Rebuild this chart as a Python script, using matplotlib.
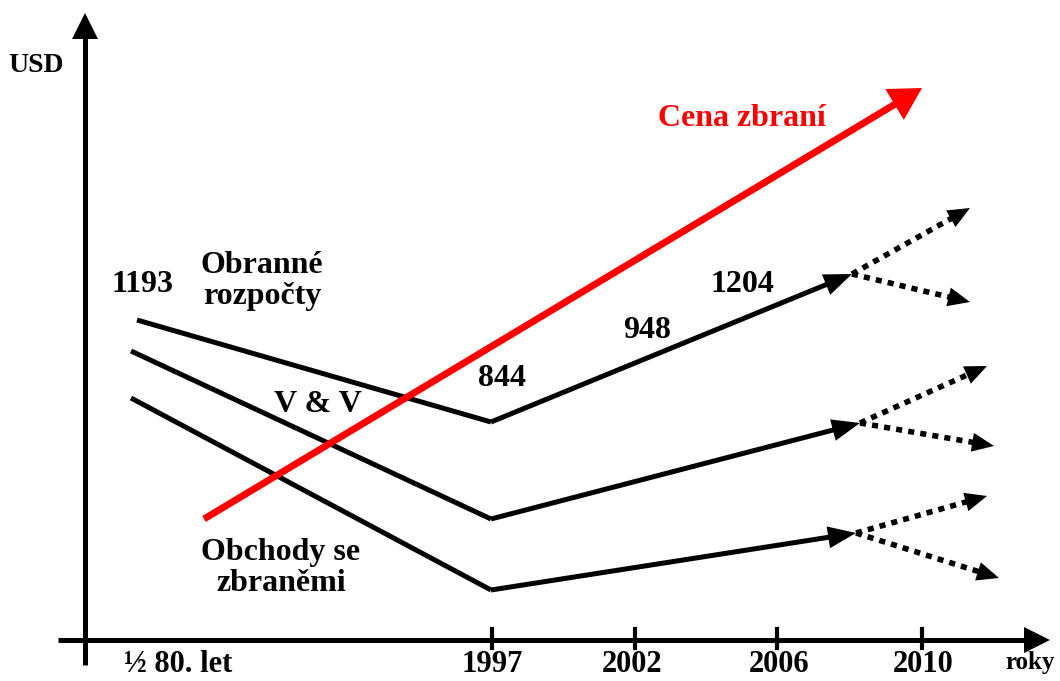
import numpy as np
import matplotlib.pyplot as plt
from matplotlib.patches import Polygon

# Schematic chart: positions along the time axis (no real scale)
years = ["½ 80. let", "1997", "2002", "2006", "2010"]
year_x = [178, 492, 632, 779, 923]
tick_x = [492, 635, 777, 922]

# series: start, 1997 low point, end of solid arrow, two dotted forecast tips
obrana = [(137, 320), (491, 422), (852, 274)]
obrana_fc = [(970, 208), (970, 302)]
vav = [(131, 351), (491, 519), (860, 423)]
vav_fc = [(987, 366), (994, 446)]
obchod = [(131, 398), (491, 590), (856, 533)]
obchod_fc = [(987, 496), (999, 578)]
cena = [(204, 519), (922, 88)]

values = ["1193", "844", "948", "1204"]
value_pos = [(143, 284), (502, 379), (647, 331), (742, 284)]

plt.rcParams['font.family'] = ['Liberation Serif', 'DejaVu Serif']

fig = plt.figure(figsize=(10.6, 6.81), dpi=100)
ax = fig.add_axes([0, 0, 1, 1])
ax.set_xlim(0, 1060)
ax.set_ylim(681, 0)
ax.axis('off')


def head(p0, p1, length, width, color='black'):
    # filled triangular arrow head ending at p1, pointing from p0
    p0, p1 = np.array(p0, float), np.array(p1, float)
    u = (p1 - p0) / np.hypot(*(p1 - p0))
    n = np.array([-u[1], u[0]])
    base = p1 - u * length
    tri = [p1, base + n * width / 2, base - n * width / 2]
    ax.add_patch(Polygon(tri, closed=True, color=color, lw=0, zorder=3))
    return base + u * 2


def arrow(p0, p1, color='black', lw=3.6, length=26, width=20, dotted=False):
    end = head(p0, p1, length, width, color)
    kw = dict(dashes=(1.1, 1.1), dash_capstyle='butt') if dotted else dict(solid_capstyle='butt')
    ax.plot([p0[0], end[0]], [p0[1], end[1]], color=color, lw=lw, **kw)


# axes
ax.plot([85, 85], [665, 35], color='black', lw=3.6, solid_capstyle='butt')
head((85, 60), (85, 13), 26, 26)
ax.plot([58, 1025], [640, 640], color='black', lw=3.6, solid_capstyle='butt')
head((1000, 640), (1050, 640), 26, 26)
for tx in tick_x:
    ax.plot([tx, tx], [629, 648], color='black', lw=3)

for lab, x in zip(years, year_x):
    ax.text(x, 665, lab, ha='center', va='center', fontsize=22, fontweight='bold')
ax.text(1030, 662, "roky", ha='center', va='center', fontsize=18, fontweight='bold')
ax.text(36, 66, "USD", ha='center', va='center', fontsize=20, fontweight='bold')

# series
for line, fc in [(obrana, obrana_fc), (vav, vav_fc), (obchod, obchod_fc)]:
    ax.plot([line[0][0], line[1][0]], [line[0][1], line[1][1]], color='black',
            lw=3.6, solid_capstyle='butt')
    arrow(line[1], line[2], length=28, width=22)
    for tip in fc:
        arrow(line[2], tip, length=22, width=19, dotted=True, lw=4)

arrow(cena[0], cena[1], color='#ff0000', lw=5, length=32, width=36)

for v, (x, y) in zip(values, value_pos):
    ax.text(x, y, v, ha='center', va='center', fontsize=23, fontweight='bold')

ax.text(262, 281, "Obranné\nrozpočty", ha='center', va='center', fontsize=23,
        fontweight='bold', linespacing=1.1)
ax.text(318, 404, "V & V", ha='center', va='center', fontsize=23, fontweight='bold')
ax.text(281, 568, "Obchody se\nzbraněmi", ha='center', va='center', fontsize=23,
        fontweight='bold', linespacing=1.1)
ax.text(742, 119, "Cena zbraní", ha='center', va='center', fontsize=23,
        fontweight='bold', color='#ff0000')

fig.savefig('out.png', dpi=100)
